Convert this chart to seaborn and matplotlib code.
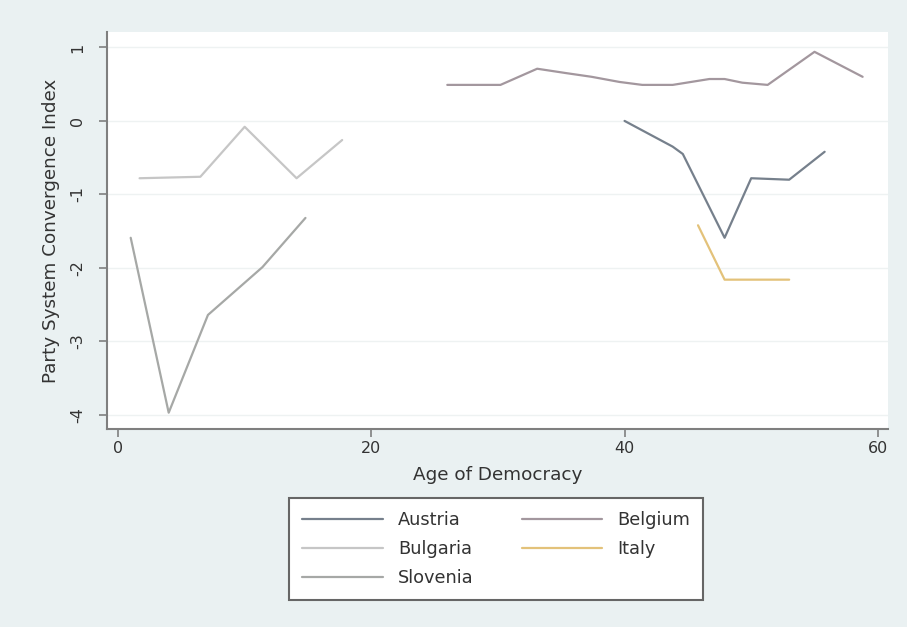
import numpy as np
import pandas as pd
import matplotlib
matplotlib.use("Agg")
import matplotlib.pyplot as plt
import seaborn as sns

countries = ["Austria", "Belgium", "Bulgaria", "Italy", "Slovenia"]

austria_age = [40.0, 43.8, 44.6, 47.9, 50.0, 53.0, 55.8]
austria_idx = [0.0, -0.35, -0.45, -1.59, -0.78, -0.80, -0.42]

belgium_age = [26.0, 30.2, 33.1, 35.4, 37.4, 39.6, 41.4, 43.8, 46.7, 47.9, 49.3, 51.3, 55.0, 58.8]
belgium_idx = [0.49, 0.49, 0.71, 0.65, 0.60, 0.53, 0.49, 0.49, 0.57, 0.57, 0.52, 0.49, 0.94, 0.60]

bulgaria_age = [1.7, 6.5, 10.0, 14.1, 17.7]
bulgaria_idx = [-0.78, -0.76, -0.08, -0.78, -0.26]

italy_age = [45.8, 47.9, 53.0]
italy_idx = [-1.42, -2.16, -2.16]

slovenia_age = [1.0, 4.0, 7.1, 11.4, 14.8]
slovenia_idx = [-1.59, -3.97, -2.64, -1.99, -1.32]

x_ticks = [0, 20, 40, 60]
y_ticks = [1, 0, -1, -2, -3, -4]

ages = [austria_age, belgium_age, bulgaria_age, italy_age, slovenia_age]
idxs = [austria_idx, belgium_idx, bulgaria_idx, italy_idx, slovenia_idx]
frames = []
for c, a, v in zip(countries, ages, idxs):
    frames.append(pd.DataFrame({"country": c, "age": a, "index": v}))
df = pd.concat(frames, ignore_index=True)

palette = {
    "Austria": "#76808c",
    "Belgium": "#a3979e",
    "Bulgaria": "#c6c6c6",
    "Italy": "#e3c27a",
    "Slovenia": "#a6a8a6",
}

sns.set_style("white")
plt.rcParams["font.family"] = ["DejaVu Sans"]

bg = "#eaf1f2"
fig = plt.figure(figsize=(9.07, 6.27), dpi=100, facecolor=bg)
ax = fig.add_axes([0.118, 0.316, 0.861, 0.633])
ax.set_facecolor("white")

sns.lineplot(data=df, x="age", y="index", hue="country", hue_order=countries,
             palette=palette, ax=ax, linewidth=1.6, sort=False, estimator=None)

ax.set_xlim(-0.87, 60.8)
ax.set_ylim(-4.19, 1.21)
ax.set_xticks(x_ticks)
ax.set_yticks(y_ticks)
ax.set_yticklabels([str(t) for t in y_ticks], rotation=90, va="center")
ax.yaxis.grid(True, color="#eef2f2", linewidth=1.0)
ax.xaxis.grid(False)
for s in ["top", "right"]:
    ax.spines[s].set_visible(False)
for s in ["left", "bottom"]:
    ax.spines[s].set_color("#7f7f7f")
    ax.spines[s].set_linewidth(1.5)
ax.tick_params(axis="both", direction="out", length=6, width=1.2, color="#7f7f7f",
               labelsize=11.5, labelcolor="#333333", left=True, bottom=True)
ax.tick_params(axis="y", pad=10)
ax.tick_params(axis="x", pad=3)
ax.set_xlabel("Age of Democracy", fontsize=13.2, color="#333333", labelpad=7)
ax.set_ylabel("Party System Convergence Index", fontsize=13.2, color="#333333", labelpad=7)

handles, labels = ax.get_legend_handles_labels()
hmap = dict(zip(labels, handles))
order = ["Austria", "Bulgaria", "Slovenia", "Belgium", "Italy"]
ax.get_legend().remove()
leg = fig.legend([hmap[o] for o in order], order, ncol=2,
                 loc="center", bbox_to_anchor=(0.547, 0.1244),
                 frameon=True, fancybox=False, fontsize=12.8,
                 handlelength=4.55, handletextpad=0.85, columnspacing=2.7,
                 labelspacing=0.63, borderpad=0.7)
leg.get_frame().set_edgecolor("#666666")
leg.get_frame().set_linewidth(1.5)
leg.get_frame().set_facecolor("white")
leg.get_frame().set_alpha(1.0)
for t in leg.get_texts():
    t.set_color("#333333")

fig.savefig("out.png", dpi=100, facecolor=bg)
